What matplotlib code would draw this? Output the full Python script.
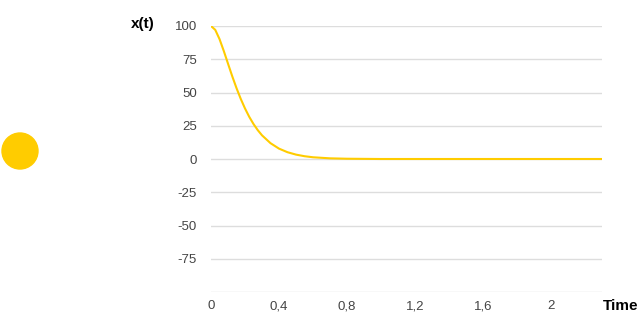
import matplotlib.pyplot as plt
from matplotlib.patches import Ellipse
from matplotlib.ticker import FuncFormatter

plt.rcParams['font.family'] = ['Liberation Sans', 'DejaVu Sans']

# Values
t_vals = [0, 0.025, 0.05, 0.075, 0.1, 0.125, 0.15, 0.175, 0.2, 0.225, 0.25,
          0.275, 0.3, 0.35, 0.4, 0.45, 0.5, 0.55, 0.6, 0.7, 0.8, 0.9, 1.0,
          1.2, 1.4, 1.6, 1.8, 2.0, 2.2, 2.3]
x_vals = [100, 97.1, 90.2, 81.3, 71.7, 62.2, 53.3, 45.2, 38.0, 31.7, 26.3,
          21.7, 17.8, 11.9, 7.8, 5.1, 3.3, 2.1, 1.3, 0.5, 0.2, 0.1, 0,
          0, 0, 0, 0, 0, 0, 0]
x_ticks = [0, 0.4, 0.8, 1.2, 1.6, 2.0]
y_ticks = [-75, -50, -25, 0, 25, 50, 75, 100]

color = '#ffcc00'

fig = plt.figure(figsize=(6.4, 3.2), dpi=100)
ax = fig.add_axes([211 / 640, 1 - 292 / 320, 391 / 640, 266 / 320])

ax.plot(t_vals, x_vals, color=color, linewidth=1.5, zorder=3)

ax.set_xlim(0, 2.3)
ax.set_ylim(-100, 100)
ax.set_xticks(x_ticks)
ax.set_yticks(y_ticks + [-100])
ax.xaxis.set_major_formatter(FuncFormatter(lambda v, p: f'{v:g}'.replace('.', ',')))
ax.yaxis.set_major_formatter(FuncFormatter(lambda v, p: '' if v == -100 else f'{v:g}'))
ax.grid(axis='y', color='#dddddd', linewidth=1)
ax.grid(axis='x', visible=False)
for s in ax.spines.values():
    s.set_visible(False)
ax.tick_params(length=0, labelsize=9.5, colors='#444444')
ax.tick_params(axis='y', pad=10)
ax.tick_params(axis='x', pad=6)

fig.text(131 / 640, 1 - 24 / 320, 'x(t)', fontsize=11, fontweight='bold', va='center', ha='left')
fig.text(638 / 640, 1 - 306 / 320, 'Time', fontsize=11, fontweight='bold', va='center', ha='right')

fig.add_artist(Ellipse((20 / 640, 1 - 151 / 320), 36 / 640, 36 / 320,
                       transform=fig.transFigure, color=color))

fig.savefig('out.png', dpi=100)
